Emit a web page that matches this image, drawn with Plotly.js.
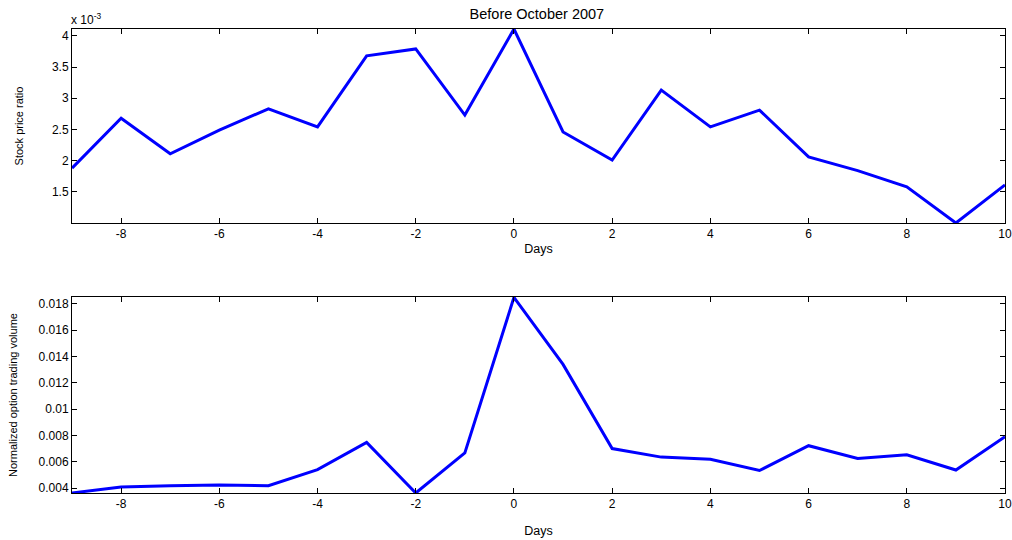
<!DOCTYPE html>
<html>
<head>
<meta charset="utf-8">
<script src="https://cdn.plot.ly/plotly-3.0.1.min.js"></script>
<style>html,body{margin:0;padding:0;background:#fff;}#chart{width:1012px;height:540px;}</style>
</head>
<body>
<div id="chart"></div>
<script>
const days = [-9,-8,-7,-6,-5,-4,-3,-2,-1,0,1,2,3,4,5,6,7,8,9,10];
const stockPriceRatio = [0.00188,0.00268,0.00211,0.00249,0.00283,0.00254,0.00368,0.00379,0.00273,0.00411,0.00246,0.00201,0.00313,0.00254,0.00281,0.00206,0.00184,0.00158,0.00100,0.00161];
const optionVolume = [0.00362,0.00408,0.00418,0.00423,0.00418,0.00540,0.00747,0.00362,0.00667,0.01850,0.01340,0.00700,0.00635,0.00618,0.00533,0.00722,0.00625,0.00652,0.00537,0.00790];
const xTicks = [-8,-6,-4,-2,0,2,4,6,8,10];
const xTickText = ['-8','-6','-4','-2','0','2','4','6','8','10'];
const topYTickVals = [0.0015,0.002,0.0025,0.003,0.0035,0.004];
const topYTickText = ['1.5','2','2.5','3','3.5','4'];
const botYTickVals = [0.004,0.006,0.008,0.01,0.012,0.014,0.016,0.018];
const botYTickText = ['0.004','0.006','0.008','0.01','0.012','0.014','0.016','0.018'];

const fam = 'Liberation Sans, Arial, sans-serif';
const tickFont = {family:fam, size:12, color:'#000'};
const yTitleFont = {family:fam, size:11, color:'#000'};
const xTitleFont = {family:fam, size:12.5, color:'#000'};
const axisCommon = {
  showline:true, linecolor:'#000', linewidth:1, mirror:'ticks',
  ticks:'inside', ticklen:5, tickcolor:'#000', tickwidth:1,
  showgrid:false, zeroline:false, tickfont:tickFont
};
const lineStyle = {color:'#0000ff', width:3};

const data = [
  {x:days, y:stockPriceRatio, type:'scatter', mode:'lines', line:lineStyle, xaxis:'x', yaxis:'y'},
  {x:days, y:optionVolume, type:'scatter', mode:'lines', line:lineStyle, xaxis:'x2', yaxis:'y2'}
];

const layout = {
  width:1012, height:540,
  margin:{l:72, r:7, t:29, b:47},
  paper_bgcolor:'#fff', plot_bgcolor:'#fff',
  showlegend:false,
  font:tickFont,
  title:{text:'Before October 2007', font:{family:fam, size:14.5, color:'#000'}, x:0.5305, xanchor:'center', y:0.974, yanchor:'middle'},
  xaxis:Object.assign({}, axisCommon, {domain:[0,1], range:[-9,10], tickvals:xTicks, ticktext:xTickText, anchor:'y',
    title:{text:'Days', font:xTitleFont, standoff:3}}),
  yaxis:Object.assign({}, axisCommon, {domain:[0.5819,1], range:[0.001,0.00411], tickvals:topYTickVals, ticktext:topYTickText, anchor:'x',
    title:{text:'Stock price ratio', font:yTitleFont, standoff:26}}),
  xaxis2:Object.assign({}, axisCommon, {domain:[0,1], range:[-9,10], tickvals:xTicks, ticktext:xTickText, anchor:'y2',
    title:{text:'Days', font:xTitleFont, standoff:15}}),
  yaxis2:Object.assign({}, axisCommon, {domain:[0,0.4224], range:[0.00362,0.01853], tickvals:botYTickVals, ticktext:botYTickText, anchor:'x2',
    title:{text:'Normalized option trading volume', font:yTitleFont, standoff:18}}),
  annotations:[
    {xref:'paper', yref:'paper', x:-0.003, y:1.0, xanchor:'left', yanchor:'bottom', showarrow:false,
     text:'x 10<sup>-3</sup>', font:{family:fam, size:12, color:'#000'}}
  ]
};

Plotly.newPlot('chart', data, layout, {staticPlot:true, displayModeBar:false});
</script>
</body>
</html>
